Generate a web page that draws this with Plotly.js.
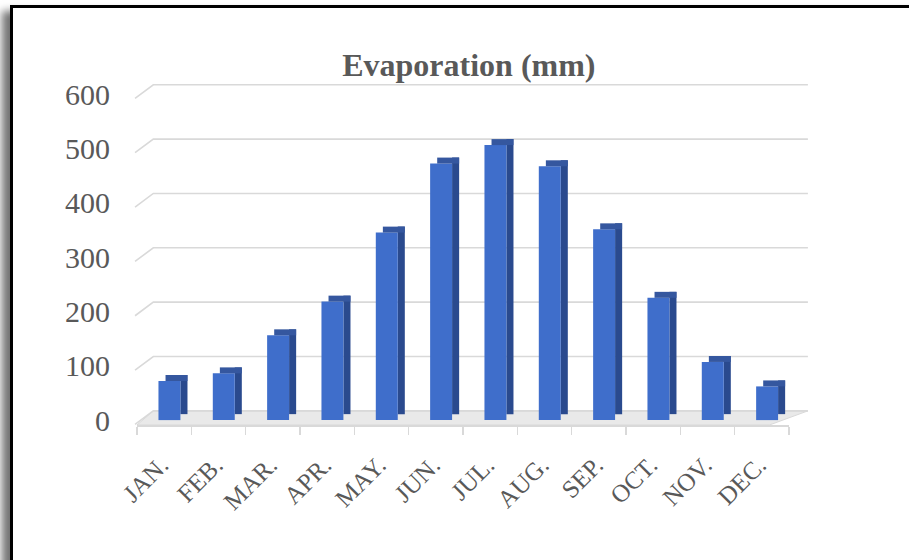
<!DOCTYPE html>
<html>
<head>
<meta charset="utf-8">
<script src="https://cdn.plot.ly/plotly-3.0.1.min.js"></script>
<style>
  html, body { margin: 0; padding: 0; background: #ffffff; overflow: hidden; }
  #frame { position: absolute; left: 10px; top: 5px; width: 960px; height: 620px;
           border: 3px solid #000; box-shadow: -8px 6px 8px rgba(0,0,0,0.55); background: #fff; z-index: 0; }
  #chart { position: absolute; left: 0; top: 0; width: 909px; height: 560px; z-index: 1; }
</style>
</head>
<body>
<div id="frame"></div>
<div id="chart"></div>
<script>
// ---- data ----
const months = ['JAN.', 'FEB.', 'MAR.', 'APR.', 'MAY.', 'JUN.', 'JUL.', 'AUG.', 'SEP.', 'OCT.', 'NOV.', 'DEC.'];
const evaporation = [72, 86, 156, 218, 345, 472, 506, 467, 351, 225, 107, 62];
const yTicks = [0, 100, 200, 300, 400, 500, 600];
const chartTitle = 'Evaporation (mm)';

// ---- style ----
const Y_MIN = -9, Y_MAX = 600;
const DEPTH = 11;            // visual 3D depth (in axis units)
const serif = 'Liberation Serif, Times New Roman, serif';
const textGray = '#595959';
const gridGray = '#d9d9d9';

const frontTrace = {
  type: 'bar', x: months, y: evaporation,
  offset: -0.105, width: 0.404,
  marker: { color: '#3f6ecb', line: { width: 0 } },
  hoverinfo: 'x+y', showlegend: false
};
const sideTrace = {
  type: 'bar', x: months, y: evaporation, base: DEPTH,
  offset: 0.299, width: 0.13,
  marker: { color: '#2a4a8e', line: { width: 0 } },
  hoverinfo: 'skip', showlegend: false
};
const topTrace = {
  type: 'bar', x: months, y: evaporation.map(() => DEPTH), base: evaporation,
  offset: 0.025, width: 0.404,
  marker: { color: '#35579f', line: { width: 0 } },
  hoverinfo: 'skip', showlegend: false
};

// helper: axis value -> paper fraction
const py = v => (v - Y_MIN) / (Y_MAX - Y_MIN);
const BACK_X0 = 0.025, BACK_X1 = 1.029, BACK_DY = 17, FRONT_DY = -8;

const shapes = [];
// floor
shapes.push({
  type: 'path', xref: 'paper', yref: 'paper', layer: 'below',
  path: `M 0 ${py(Y_MIN)} L 0.97 ${py(Y_MIN)} L ${BACK_X1} ${py(BACK_DY)} L ${BACK_X0} ${py(BACK_DY)} Z`,
  fillcolor: '#e9e9e9', line: { color: gridGray, width: 1 }
});
// back-wall gridlines with the perspective stub at the left
yTicks.forEach(v => {
  shapes.push({
    type: 'path', xref: 'paper', yref: 'paper', layer: 'below',
    path: `M -0.003 ${py(v + FRONT_DY)} L ${BACK_X0} ${py(v + BACK_DY)} L ${BACK_X1} ${py(v + BACK_DY)}`,
    line: { color: gridGray, width: 1.6 }
  });
});

const layout = {
  width: 909, height: 560,
  margin: { l: 137, r: 120, t: 94, b: 135 },
  paper_bgcolor: 'rgba(0,0,0,0)', plot_bgcolor: 'rgba(0,0,0,0)',
  barmode: 'overlay',
  title: {
    text: '<b>' + chartTitle + '</b>',
    font: { family: serif, size: 32, color: textGray },
    xref: 'paper', x: 0.509, xanchor: 'center',
    yref: 'container', y: 0.884, yanchor: 'middle'
  },
  xaxis: {
    type: 'category', range: [-0.5, 11.5],
    tickangle: -45, tickfont: { family: serif, size: 25, color: textGray },
    ticks: 'outside', ticklen: 8, tickcolor: gridGray, tickwidth: 1.5,
    tickson: 'boundaries', ticklabelstandoff: 14, ticklabelshift: -3,
    showline: true, linecolor: gridGray, linewidth: 1.5,
    showgrid: false, zeroline: false, fixedrange: true
  },
  yaxis: {
    range: [Y_MIN, Y_MAX], tickvals: yTicks, ticktext: yTicks.map(String),
    tickfont: { family: serif, size: 30, color: textGray },
    ticks: '', showgrid: false, zeroline: false, showline: false,
    ticklabelstandoff: 26, fixedrange: true
  },
  shapes: shapes
};

Plotly.newPlot('chart', [sideTrace, frontTrace, topTrace], layout, { displayModeBar: false, staticPlot: true });
</script>
</body>
</html>
